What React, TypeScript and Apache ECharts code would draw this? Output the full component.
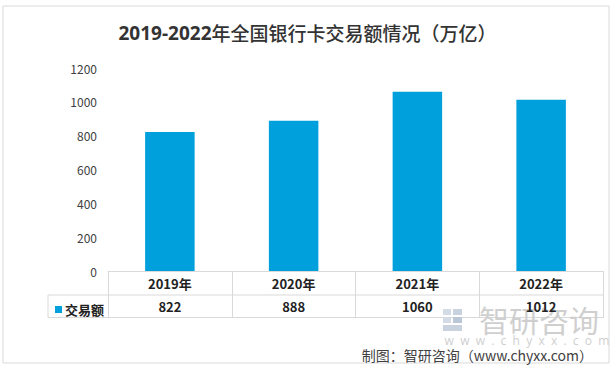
import React, { useEffect, useRef } from "react";
import * as echarts from "echarts";

const categories = ["2019年", "2020年", "2021年", "2022年"];
const values = [822, 888, 1060, 1012];
const seriesName = "交易额";
const yMin = 0;
const yMax = 1200;
const yInterval = 200;
const titleYears = "2019-2022";
const titleRest = "年全国银行卡交易额情况（万亿）";
const sourceText = "制图：智研咨询（www.chyxx.com）";

const FONT = "'Noto Sans CJK SC', 'Open Sans', sans-serif";
const LINE = "#d9d9d9";

export default function App() {
  const ref = useRef<HTMLDivElement>(null);
  useEffect(() => {
    if (!ref.current) return;
    const chart = echarts.init(ref.current, undefined, { renderer: "svg" });
    chart.setOption({
      animation: false,
      backgroundColor: "#fff",
      textStyle: { fontFamily: FONT },
      title: {
        text: `{a|${titleYears}}{b|${titleRest}}`,
        left: "center",
        top: 18,
        textStyle: {
          rich: {
            a: { fontSize: 19, fontWeight: "bold", color: "#333", fontFamily: "'Open Sans', sans-serif" },
            b: { fontSize: 19, fontWeight: 500, color: "#333", fontFamily: FONT },
          },
        },
      },
      legend: {
        left: 50,
        top: 298,
        icon: "rect",
        itemWidth: 7,
        itemHeight: 7,
        itemGap: 4,
        textStyle: { fontSize: 13, fontWeight: "bold", color: "#222", fontFamily: FONT, padding: [0, 0, 0, -2] },
        data: [seriesName],
      },
      grid: { left: 108, right: 12, top: 68, bottom: 96, containLabel: false },
      xAxis: {
        type: "category",
        data: categories,
        axisLine: { show: true, lineStyle: { color: LINE, width: 1 } },
        axisTick: { show: true, length: 47, lineStyle: { color: LINE } },
        axisLabel: {
          margin: 0,
          interval: 0,
          formatter: (v: string, i: number) => `{y|${v}}\n{v|${values[i]}}`,
          rich: {
            y: { fontSize: 13, fontWeight: "bold", color: "#222", lineHeight: 24, fontFamily: FONT },
            v: { fontSize: 13, fontWeight: "bold", color: "#222", lineHeight: 22, fontFamily: FONT },
          },
        },
      },
      yAxis: {
        type: "value",
        min: yMin,
        max: yMax,
        interval: yInterval,
        axisLine: { show: false },
        axisTick: { show: false },
        splitLine: { show: false },
        axisLabel: { fontSize: 12, color: "#404040", margin: 11, fontFamily: FONT, formatter: (v: number) => String(v) },
      },
      series: [
        {
          name: seriesName,
          type: "bar",
          data: values,
          barWidth: "40%",
          itemStyle: { color: "#00a0dc" },
        },
      ],
      graphic: [
        {
          type: "rect",
          shape: { x: 3, y: 6, width: 606, height: 357 },
          style: { fill: "none", stroke: LINE, lineWidth: 1 },
          silent: true,
        },
        { type: "line", shape: { x1: 48, y1: 295, x2: 603, y2: 295 }, style: { stroke: LINE, lineWidth: 1 } },
        { type: "line", shape: { x1: 48, y1: 317.5, x2: 603, y2: 317.5 }, style: { stroke: LINE, lineWidth: 1 } },
        { type: "line", shape: { x1: 48, y1: 295, x2: 48, y2: 317.5 }, style: { stroke: LINE, lineWidth: 1 } },
        // watermark logo
        { type: "rect", shape: { x: 443, y: 309, width: 8, height: 6 }, style: { fill: "#d2dbe6" } },
        { type: "rect", shape: { x: 453, y: 309, width: 9, height: 6 }, style: { fill: "#c9d3df" } },
        { type: "rect", shape: { x: 443, y: 317, width: 8, height: 6 }, style: { fill: "#d2dbe6" } },
        { type: "rect", shape: { x: 453, y: 317, width: 9, height: 6 }, style: { fill: "#b9c7d6" } },
        { type: "rect", shape: { x: 443, y: 325, width: 19, height: 6 }, style: { fill: "#c9d3df" } },
        {
          type: "text",
          x: 479,
          y: 319,
          style: { text: "智研咨询", fontSize: 30, fill: "#cfcfcf", fontFamily: FONT, textVerticalAlign: "middle", textAlign: "left" },
          silent: true,
        },
        {
          type: "text",
          x: 527,
          y: 340,
          style: { text: "w  w  w  .  c  h  y  x  x  .  c  o  m", fontSize: 12, fill: "#cfcfcf", fontFamily: "'Open Sans', sans-serif", textAlign: "center", textVerticalAlign: "middle" },
          silent: true,
        },
        {
          type: "text",
          x: 593,
          y: 355,
          style: { text: sourceText, fontSize: 14, fill: "#404040", fontFamily: FONT, textAlign: "right", textVerticalAlign: "middle" },
          silent: true,
        },
      ],
    });
    return () => chart.dispose();
  }, []);
  return (
    <div
      ref={ref}
      style={{ position: "fixed", left: 0, top: 0, width: 615, height: 367 }}
    />
  );
}
